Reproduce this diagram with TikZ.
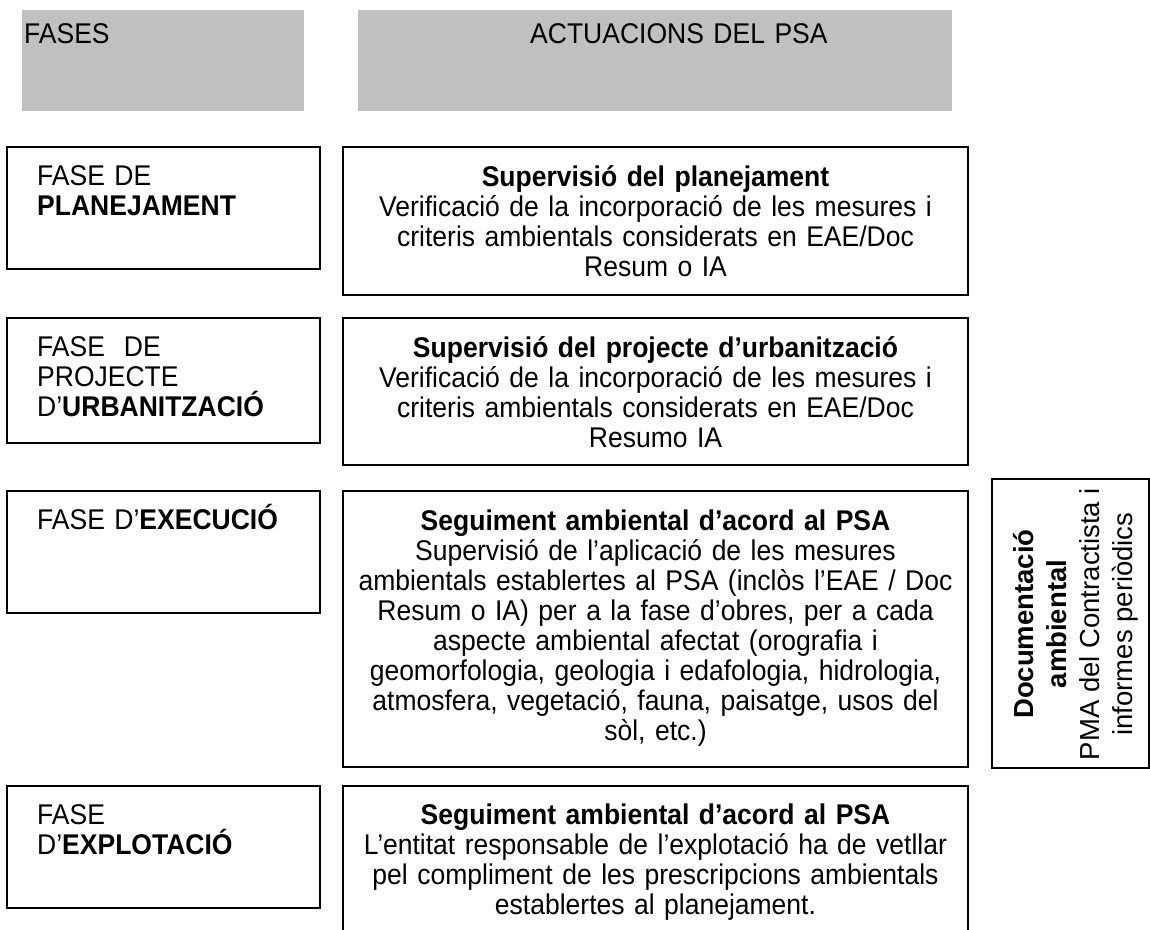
\documentclass[tikz,border=0pt]{standalone}
\usepackage{fontspec}
\setmainfont{Liberation Sans}[FakeStretch=0.93]
\newfontfamily\docfont{Liberation Sans}
\definecolor{capgris}{RGB}{192,192,192}
\tikzset{
	caixa/.style={line width=1.4pt},
	fase/.style={anchor=base west,align=left,text width=280pt,inner sep=0pt,font=\fontsize{28.5}{30}\selectfont},
	actua/.style={anchor=base,align=center,text width=620pt,inner sep=0pt,font=\fontsize{28.5}{30}\selectfont},
	docu/.style={rotate=90,align=center,inner sep=0pt,font=\docfont\fontsize{27.5}{33}\selectfont}
}
\begin{document}
\begin{tikzpicture}[x=1pt,y=-1pt]
				\useasboundingbox(0,0)rectangle(1150,929);
				\fill[capgris](22,10)rectangle(304,111);
				\fill[capgris](358,10)rectangle(952,111);
				\node[fase](hfases)at(24,43.5){FASES};
				\node[fase,text width=300pt](hactua)at(530,43.5){ACTUACIONS DEL PSA};
				\draw[caixa](7,147)rectangle(320,269);
				\draw[caixa](343,147)rectangle(968,295);
				\node[fase](f1)at(37,185.4){FASE DE\\\textbf{PLANEJAMENT}};
				\node[actua](a1)at(655.5,186.4){\textbf{Supervisió del planejament}\\Verificació de la incorporació de les mesures i\\criteris ambientals considerats en EAE/Doc\\Resum o IA};
				\draw[caixa](7,318)rectangle(320,443);
				\draw[caixa](343,318)rectangle(968,465);
				\node[fase](f2)at(37,356.4){FASE\ \ DE\\PROJECTE\\D’\textbf{URBANITZACIÓ}};
				\node[actua](a2)at(655.5,357.4){\textbf{Supervisió del projecte d’urbanització}\\Verificació de la incorporació de les mesures i\\criteris ambientals considerats en EAE/Doc\\Resumo IA};
				\draw[caixa](7,491)rectangle(320,613);
				\draw[caixa](343,491)rectangle(968,767);
				\node[fase](f3)at(37,529.4){FASE D’\textbf{EXECUCIÓ}};
				\node[actua](a3)at(655.5,530.4){\textbf{Seguiment ambiental d’acord al PSA}\\Supervisió de l’aplicació de les mesures\\ambientals establertes al PSA (inclòs l’EAE / Doc\\Resum o IA) per a la fase d’obres, per a cada\\aspecte ambiental afectat (orografia i\\geomorfologia, geologia i edafologia, hidrologia,\\atmosfera, vegetació, fauna, paisatge, usos del\\sòl, etc.)};
				\draw[caixa](992,479)rectangle(1149,768);
				\node[docu](d1)at(1076,624){\textbf{Documentació}\\\textbf{ambiental}\\PMA del Contractista i\\informes periòdics};
				\draw[caixa](7,786)rectangle(320,908);
				\draw[caixa](343,935)|-(968,786)--(968,935);
				\node[fase](f4)at(37,824.4){FASE\\D’\textbf{EXPLOTACIÓ}};
				\node[actua](a4)at(655.5,824.4){\textbf{Seguiment ambiental d’acord al PSA}\\L’entitat responsable de l’explotació ha de vetllar\\pel compliment de les prescripcions ambientals\\establertes al planejament.};
			\end{tikzpicture}
\end{document}
